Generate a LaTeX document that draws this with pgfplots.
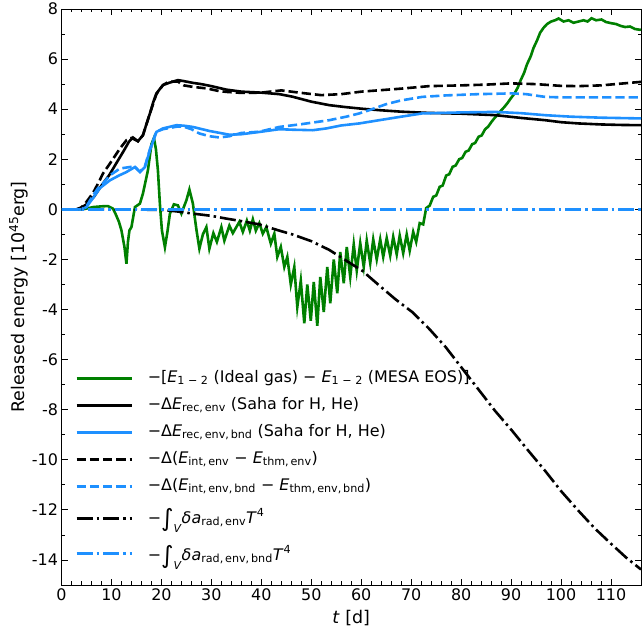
\documentclass[border=0pt]{standalone}
\usepackage{amsmath}
\usepackage{fontspec}
\setmainfont{DejaVu Sans}
\usepackage{pgfplots}
\pgfplotsset{compat=1.18}
\definecolor{mplgreen}{HTML}{008000}
\definecolor{dodger}{HTML}{1E90FF}
\newcommand{\sub}[1]{\ensuremath{_{\text{#1}}}}
\newcommand{\sups}[1]{\ensuremath{^{\text{#1}}}}
\newcommand{\intV}{\raisebox{-0.22em}{\fontsize{24}{24}\selectfont ∫}\raisebox{-0.6em}{\fontsize{11}{11}\selectfont\textit{V}}}
\newcommand{\strutA}{\rule[-10bp]{0pt}{27bp}}
\newcommand{\strutB}{\rule[-14bp]{0pt}{37bp}}
\newcommand{\strutC}{\rule[-10bp]{0pt}{33bp}}
\begin{document}
\begin{tikzpicture}[font=\fontsize{16}{19}\selectfont]
\useasboundingbox (-61.5bp,-46bp) rectangle (581.5bp,585bp);
\begin{axis}[
  at={(0bp,0bp)}, anchor=south west,
  width=579.5bp, height=576bp, scale only axis,
  xmin=0, xmax=116, ymin=-15, ymax=8,
  xtick={0,10,...,110}, ytick={-14,-12,...,8},
  minor x tick num=4, minor y tick num=1,
  tick align=inside,
  major tick length=6bp, minor tick length=3.5bp,
  tick style={black, line width=0.8bp},
  axis line style={line width=0.8bp},
  /pgf/number format/assume math mode=true,
  ticklabel style={font=\fontsize{16}{19}\selectfont},
  xlabel={\textit{t} [d]},
  ylabel={Released energy [10\sups{45}erg]},
  label style={font=\fontsize{17.5}{21}\selectfont},
  xlabel style={at={(axis description cs:0.5,-0.0573)}, anchor=center},
  ylabel style={at={(axis description cs:-0.0742,0.5)}, anchor=center},
  legend style={draw=none, fill=none, at={(axis description cs:0.0233,0.382)}, anchor=north west, inner sep=0pt, row sep=0bp, column sep=15bp, nodes={inner sep=0bp, text depth=}, font=\fontsize{16}{19}\selectfont},
  legend cell align=left,
  legend image code/.code={\draw[#1] (0bp,0bp) -- (55bp,0bp);},
  every axis plot/.append style={line width=2.6bp},
]
\addplot[mplgreen] coordinates {(0,0)(2,0)(4,0)(5,0.03)(6.3,0.09)(8,0.12)(9.3,0.13)(10.3,0.03)(10.8,-0.17)(11.5,-0.5)(12,-0.84)(12.6,-1.5)(13,-2.17)(13.3,-1.3)(13.6,-0.84)(14,-0.71)(14.7,0.09)(15.7,0.23)(16.3,0.63)(17.3,1.56)(18,2.6)(18.5,2.85)(18.9,2.4)(19.3,1.56)(19.7,0.2)(20.1,-0.84)(20.7,-1.51)(21.2,-0.9)(21.7,-0.17)(22.5,0.2)(23.3,0.16)(24,-0.17)(24.5,0.1)(25,0.36)(25.6,0.79)(26.3,0.23)(27,-0.8)(27.6,-1.57)(28.3,-1.0)(29,-0.71)(29.6,-1.57)(30.4,-0.95)(31.1,-1.3)(32,-0.71)(32.6,-1.25)(33.6,-0.65)(34.3,-0.95)(35.6,-0.5)(36.3,-0.9)(37.1,-0.45)(37.7,-0.85)(38.3,-0.4)(38.9,-0.85)(39.6,-0.55)(40.3,-0.97)(41,-0.71)(41.9,-1.37)(42.6,-0.97)(43.2,-1.9)(43.9,-1.5)(44.6,-2.3)(45.2,-1.9)(45.9,-3.0)(46.6,-2.3)(47.2,-3.9)(47.9,-2.85)(48.6,-4.55)(49.2,-3.0)(49.9,-4.45)(50.5,-2.9)(51.2,-4.65)(51.8,-2.7)(52.5,-4.1)(53.2,-2.3)(53.8,-3.75)(54.5,-2.0)(55.2,-3.35)(55.8,-1.7)(56.5,-2.95)(57.1,-1.5)(57.8,-2.7)(58.5,-1.4)(59.1,-2.45)(59.8,-1.35)(60.5,-2.3)(61.1,-1.25)(61.8,-2.15)(62.4,-1.2)(63.1,-2.0)(63.8,-1.2)(64.4,-1.9)(65.1,-1.15)(65.8,-1.85)(66.4,-1.1)(67.1,-1.8)(67.7,-1.05)(68.4,-1.75)(69.1,-1.0)(69.7,-1.65)(70.4,-0.9)(71.0,-1.3)(71.7,-0.55)(72.4,-0.6)(73.0,0.05)(73.7,0.15)(74.4,0.5)(75,0.55)(75.7,0.9)(76.3,0.95)(77,1.35)(77.6,1.4)(78.3,1.7)(78.9,1.75)(79.6,2.0)(80.2,2.05)(80.9,2.3)(81.5,2.35)(82.2,2.6)(82.8,2.65)(83.5,2.9)(84.1,2.95)(84.8,3.2)(85.4,3.3)(86.1,3.5)(86.7,3.65)(87.4,3.8)(88,3.95)(88.7,4.1)(89.3,4.25)(90,4.45)(90.6,4.6)(91.3,4.85)(91.9,5.15)(92.6,5.45)(93.2,5.8)(93.9,6.1)(94.5,6.45)(95.2,6.75)(95.8,7.05)(96.5,7.25)(97.2,7.4)(98,7.5)(98.8,7.55)(99.5,7.62)(100.5,7.5)(101.5,7.55)(102.5,7.45)(103.5,7.5)(104.5,7.55)(105.3,7.5)(106.1,7.63)(107,7.55)(108.1,7.58)(109,7.48)(110.1,7.43)(111,7.4)(112,7.32)(112.8,7.28)(113.8,7.3)(114.8,7.2)(115.8,7.17)(116,7.18)};
\addlegendentry{\strutA−[\textit{E}\sub{1 − 2} (Ideal gas) − \textit{E}\sub{1 − 2} (MESA EOS)]}
\addplot[black] coordinates {(0,0)(2,0)(3,0)(3.7,0.03)(5,0.2)(6.5,0.5)(8,0.95)(9.5,1.35)(11,1.85)(12.5,2.35)(13.5,2.7)(14.3,2.87)(15.3,2.72)(16.3,2.96)(17,3.4)(17.7,3.83)(18.4,4.3)(19,4.63)(20.3,4.96)(21.5,5.05)(23.3,5.16)(24.5,5.12)(26.3,5.05)(28,5.0)(30,4.92)(33,4.78)(36,4.7)(40,4.66)(43.6,4.6)(46.2,4.5)(50,4.3)(53.6,4.16)(57,4.08)(60,4.02)(63.6,3.96)(68,3.9)(73.6,3.85)(80,3.82)(86.9,3.76)(92,3.65)(96.8,3.56)(100,3.48)(103.5,3.43)(108,3.39)(112,3.37)(116,3.36)};
\addlegendentry{\strutA−Δ\textit{E}\sub{rec,\,env} (Saha for H, He)}
\addplot[dodger] coordinates {(0,0)(4,0)(5,0.09)(6.3,0.45)(7.7,0.85)(9.7,1.16)(11.5,1.35)(13,1.49)(14.7,1.69)(15.7,1.49)(16.7,1.69)(17.7,2.36)(19,3.09)(20.3,3.23)(23,3.36)(24.5,3.34)(26.3,3.29)(29.6,3.13)(33.6,2.98)(36,3.0)(39.6,3.09)(43.6,3.2)(46.2,3.18)(50.3,3.16)(53,3.23)(56,3.35)(59.6,3.43)(63.6,3.56)(68,3.7)(72.2,3.83)(80,3.87)(86.9,3.89)(92,3.84)(96.8,3.76)(102,3.7)(108,3.66)(116,3.63)};
\addlegendentry{\strutA−Δ\textit{E}\sub{rec,\,env,\,bnd} (Saha for H, He)}
\addplot[black, dash pattern=on 9.25bp off 4bp] coordinates {(0,0)(3,0)(4,0.08)(5,0.3)(6.3,0.65)(7.5,1.1)(8.3,1.43)(9.7,1.83)(11.7,2.43)(13,2.76)(14,2.85)(15.3,2.72)(16.3,2.96)(17.7,3.83)(19,4.6)(20.3,4.96)(21.5,5.1)(23.3,5.1)(24.5,4.95)(26.3,4.89)(29,4.83)(31.6,4.72)(33,4.69)(36,4.65)(40,4.66)(44,4.75)(48,4.65)(52,4.56)(56,4.6)(60,4.7)(64,4.76)(68,4.82)(73.6,4.92)(80,4.95)(85,4.98)(90,5.03)(95,5.0)(100,4.93)(103.5,4.92)(108,4.95)(112,5.02)(116,5.09)};
\addlegendentry{\strutA−Δ(\textit{E}\sub{int,\,env} − \textit{E}\sub{thm,\,env})}
\addplot[dodger, dash pattern=on 9.25bp off 4bp] coordinates {(0,0)(4,0)(5,0.12)(6.3,0.55)(7.5,0.9)(8.3,1.03)(9.7,1.36)(11.7,1.63)(13.7,1.69)(14.7,1.69)(15.7,1.5)(16.7,1.72)(17.7,2.4)(19,3.1)(20.3,3.2)(23,3.3)(24.5,3.3)(26,3.2)(27.6,3.03)(29.6,2.92)(31.6,2.87)(33.6,2.92)(36,3.05)(39.6,3.1)(43.6,3.29)(48,3.4)(53.6,3.56)(57,3.7)(59.6,3.83)(61.6,3.96)(65,4.2)(68,4.35)(72.2,4.49)(77,4.55)(83.5,4.6)(90.1,4.63)(93,4.6)(96.8,4.49)(100,4.47)(108,4.47)(116,4.47)};
\addlegendentry{\strutA−Δ(\textit{E}\sub{int,\,env,\,bnd} − \textit{E}\sub{thm,\,env,\,bnd})}
\addplot[black, dash pattern=on 16bp off 4bp on 2.5bp off 4bp] coordinates {(0,0)(10,0)(20,-0.02)(23,-0.08)(26.3,-0.17)(30,-0.26)(33,-0.37)(36,-0.47)(39.6,-0.6)(43.6,-0.85)(46.2,-1.0)(50,-1.27)(53.6,-1.62)(57,-2.05)(60.2,-2.45)(63.6,-3.04)(66.9,-3.6)(70.2,-4.1)(73.5,-4.75)(76.9,-5.5)(80,-6.3)(83.5,-7.2)(86.8,-8.05)(90.2,-8.84)(93.5,-9.65)(96.8,-10.44)(100,-11.25)(103.5,-12.04)(106.8,-12.75)(110.1,-13.37)(113,-13.9)(116,-14.38)};
\addlegendentry{\strutB−\intV\textit{δa}\sub{rad,\,env}\textit{T}\sups{4}}
\addplot[dodger, dash pattern=on 16bp off 4bp on 2.5bp off 4bp] coordinates {(0,0)(116,0)};
\addlegendentry{\strutC−\intV\textit{δa}\sub{rad,\,env,\,bnd}\textit{T}\sups{4}}
\end{axis}
\end{tikzpicture}
\end{document}
